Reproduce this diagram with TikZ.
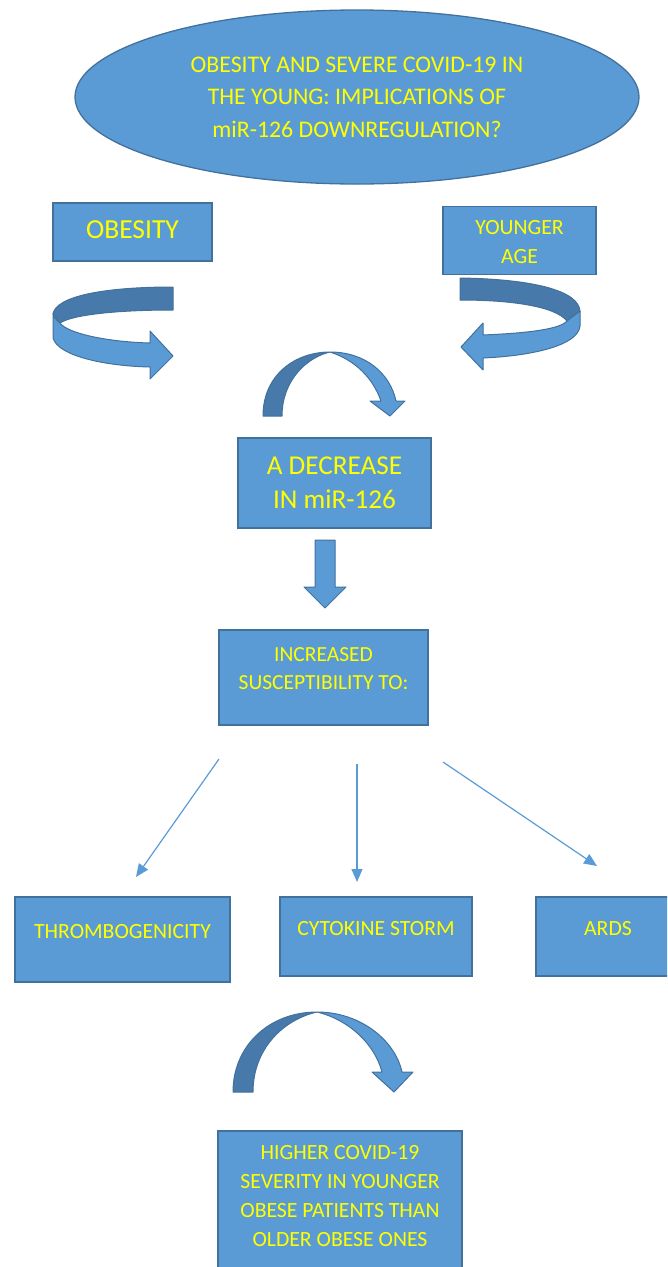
\documentclass[tikz,border=0pt]{standalone}
\usepackage{fontspec}
\setmainfont{Carlito}
\usetikzlibrary{arrows.meta,shapes.geometric,calc}
\definecolor{fillb}{HTML}{5B9BD5}
\definecolor{edgeb}{HTML}{41719C}
\definecolor{darkb}{HTML}{4779AB}
\definecolor{txty}{HTML}{FFFF00}
\begin{document}
\begin{tikzpicture}[x=1pt,y=-1pt,
  boxn/.style={draw=edgeb, fill=fillb, line width=1.3pt, inner sep=0pt},
  txt/.style={text=txty, align=center, inner sep=0pt},
  conn/.style={draw=fillb, line width=1.2pt, -{Triangle[length=13pt,width=11pt]}},
  bandlight/.style={fill=fillb, draw=edgeb, line width=1pt, line join=round},
  banddark/.style={fill=darkb, draw=edgeb, line width=1pt, line join=round}]
\useasboundingbox (0,0) rectangle (667,1267);
\clip (0,0) rectangle (667,1267);

% title ellipse
\node[boxn, ellipse, minimum width=564pt, minimum height=174pt] (title) at (357,97) {};
\node[txt, font=\fontsize{23.8}{32.5}\selectfont] (titletxt) at (357,97)
  {OBESITY AND SEVERE COVID-19 IN\\THE YOUNG: IMPLICATIONS OF\\miR-126 DOWNREGULATION?};

% top boxes
\node[boxn, minimum width=159pt, minimum height=58pt] (obes) at (132.5,232) {};
\node[txt, font=\fontsize{27.5}{32}\selectfont] (obestxt) at (132.5,230) {OBESITY};
\node[boxn, minimum width=153pt, minimum height=68pt] (young) at (519.5,240.5) {};
\node[txt, font=\fontsize{21.7}{29}\selectfont] (youngtxt) at (519.5,242.5) {YOUNGER\\AGE};

% left curved arrow
\path[banddark] (173,287) -- (173,310) .. controls (115,310) and (72,315) .. (60,323)
  -- (53,314) .. controls (56,296) and (105,287) .. (173,287) -- cycle;
\path[bandlight] (53,313) -- (53,338) .. controls (58,356) and (105,366) .. (150,367)
  -- (150,379) -- (173,356) -- (150,331) -- (150,343)
  .. controls (110,342) and (68,334) .. (60,323) .. controls (55,319) and (53,316) .. (53,313) -- cycle;

% right curved arrow
\path[banddark] (460,278) .. controls (530,279) and (580,290) .. (580,312)
  -- (567,321) .. controls (555,306) and (510,300) .. (460,300) -- cycle;
\path[bandlight] (580,311) -- (580,326) .. controls (578,346) and (530,356) .. (483,358)
  -- (483,370) -- (461,347) -- (483,323) -- (483,335)
  .. controls (530,333) and (560,329) .. (567,321) -- (580,311) -- cycle;

% middle arc arrow
\path[banddark] (263,416) .. controls (263,375) and (295,352) .. (330,352)
  .. controls (305,358) and (282,382) .. (282,416) -- cycle;
\path[bandlight] (330,352) .. controls (365,352) and (390,373) .. (396,401)
  -- (405,401) -- (390,416) -- (370,401) -- (381,401)
  .. controls (373,378) and (355,360) .. (330,352) -- cycle;

% decrease box
\node[boxn, minimum width=193pt, minimum height=90pt] (decr) at (334.5,483) {};
\node[txt, font=\fontsize{27.2}{34}\selectfont] (decrtxt) at (334.5,483) {A DECREASE\\IN miR-126};

% block down arrow
\path[bandlight] (315,540) -- (335,540) -- (335,587) -- (346,587) -- (325,608)
  -- (304,587) -- (315,587) -- cycle;

% increased box
\node[boxn, minimum width=209pt, minimum height=95pt] (inc) at (323.5,677.5) {};
\node[txt, font=\fontsize{21.5}{28}\selectfont] (inctxt) at (323.5,669) {INCREASED\\SUSCEPTIBILITY TO:};

% outcome boxes
\node[boxn, minimum width=215pt, minimum height=85pt] (thr) at (122.5,939.5) {};
\node[txt, font=\fontsize{21.7}{29}\selectfont] (thrtxt) at (122.5,932) {THROMBOGENICITY};
\node[boxn, minimum width=192pt, minimum height=79pt] (cyt) at (376,936.5) {};
\node[txt, font=\fontsize{21.7}{29}\selectfont] (cyttxt) at (376,929) {CYTOKINE STORM};
\node[boxn, minimum width=144pt, minimum height=79pt] (ards) at (608,936.5) {};
\node[txt, font=\fontsize{21.7}{29}\selectfont] (ardstxt) at (608,929) {ARDS};

% thin connectors
\coordinate (s1) at (219,759);
\coordinate (e1) at (136,877);
\coordinate (s2) at (357,764);
\coordinate (e2) at (357,882);
\coordinate (s3) at (443,762);
\coordinate (e3) at (597,866);
\draw[conn] (s1) -- (e1);
\draw[conn] (s2) -- (e2);
\draw[conn] (s3) -- (e3);

% bottom arc arrow
\path[banddark] (233,1092) .. controls (233,1045) and (270,1012) .. (317,1012)
  .. controls (282,1020) and (253,1050) .. (253,1092) -- cycle;
\path[bandlight] (317,1012) .. controls (360,1012) and (395,1040) .. (402,1072)
  -- (413,1072) -- (394,1092) -- (372,1072) -- (382,1072)
  .. controls (375,1045) and (350,1020) .. (317,1012) -- cycle;

% final box
\node[boxn, minimum width=244pt, minimum height=150pt] (final) at (340,1206) {};
\node[txt, font=\fontsize{21.7}{29.2}\selectfont] (finaltxt) at (340,1196)
  {HIGHER COVID-19\\SEVERITY IN YOUNGER\\OBESE PATIENTS THAN\\OLDER OBESE ONES};
\end{tikzpicture}
\end{document}
